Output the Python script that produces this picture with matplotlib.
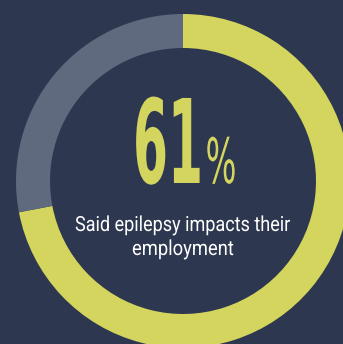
import matplotlib
matplotlib.use("Agg")
import matplotlib.pyplot as plt
from matplotlib import patheffects
from matplotlib.transforms import Affine2D

# shares as drawn on the ring (yellow arc, grey remainder)
labels = ["Impacted", "Not impacted"]
shares = [72, 28]
colors = ["#d4d55e", "#5f6a7e"]
headline = "61"
unit = "%"
caption = ["Said epilepsy impacts their", "employment"]

bg = "#2d3850"
W, H = 343, 344


class Squeeze(patheffects.AbstractPathEffect):
    # narrows the glyphs horizontally around x0 (display px)
    def __init__(self, sx, x0):
        super().__init__()
        self.sx = sx
        self.x0 = x0

    def draw_path(self, renderer, gc, tpath, affine, rgbFace=None):
        t = affine + Affine2D().translate(-self.x0, 0).scale(self.sx, 1).translate(self.x0, 0)
        renderer.draw_path(gc, tpath, t, rgbFace)


fig = plt.figure(figsize=(W / 100, H / 100), dpi=100, facecolor=bg)
ax = fig.add_axes([0, 0, 1, 1])
ax.set_facecolor(bg)

# ring
ax.pie(shares, colors=colors, center=(183, H - 181), radius=167,
       startangle=90, counterclock=False,
       wedgeprops=dict(width=34, linewidth=0), frame=True)
ax.set_xlim(0, W)
ax.set_ylim(0, H)
ax.set_aspect("equal")
ax.axis("off")

# (text, x centre, baseline y from top, size, weight, colour, target width)
items = [
    (headline, 168, 183, 84, "bold", colors[0], 70, "DejaVu Sans"),
    (unit, 221, 183, 45, "normal", colors[0], 31, "DejaVu Sans"),
    (caption[0], 183, 231, 15, "normal", "white", 216, "Roboto"),
    (caption[1], 183, 255, 15, "normal", "white", 102, "Roboto"),
]
texts = []
for s, x, y, size, weight, col, tw, fam in items:
    t = ax.text(x, H - y, s, ha="center", va="baseline", color=col,
                fontsize=size, fontweight=weight, family=[fam, "DejaVu Sans"])
    texts.append((t, x, tw))

fig.canvas.draw()
for t, x, tw in texts:
    w = t.get_window_extent().width
    t.set_path_effects([Squeeze(min(1.0, tw / w), x)])

fig.savefig("out.png", dpi=100, facecolor=bg)
